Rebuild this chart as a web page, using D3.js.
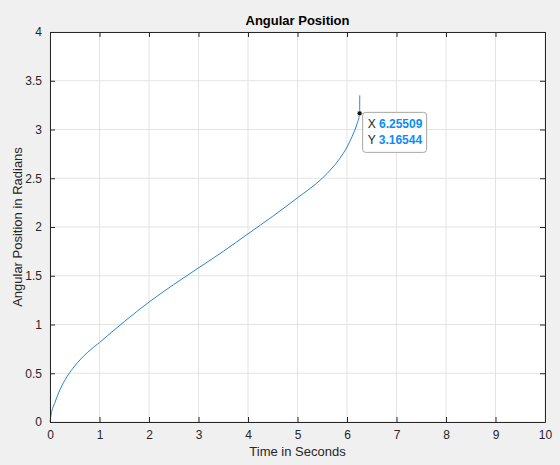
<!DOCTYPE html>
<html>
<head>
<meta charset="utf-8">
<script src="https://cdn.jsdelivr.net/npm/d3@7"></script>
<style>
  html, body { margin: 0; padding: 0; background: #f0f0f0; }
  svg { display: block; font-family: "Liberation Sans", Arial, sans-serif; }
</style>
</head>
<body>
<svg id="chart" width="560" height="465"></svg>
<script>
// Werte
const timeValues = [0, 0.02, 0.1, 0.2, 0.35, 0.5, 0.75, 1.0, 1.5, 2.0, 2.5, 3.0, 3.5, 4.0, 4.5, 5.0, 5.5, 5.7, 5.85, 6.0, 6.1, 6.2, 6.255, 6.258];
const angleValues = [0, 0.07, 0.2, 0.33, 0.47, 0.575, 0.71, 0.815, 1.03, 1.23, 1.41, 1.58, 1.75, 1.93, 2.11, 2.30, 2.50, 2.605, 2.70, 2.82, 2.925, 3.055, 3.16544, 3.35];
const xTicks = [0, 1, 2, 3, 4, 5, 6, 7, 8, 9, 10];
const yTicks = [0, 0.5, 1, 1.5, 2, 2.5, 3, 3.5, 4];
const dataTip = { x: 6.25509, y: 3.16544 };

const svg = d3.select("#chart");
const margin = { top: 32, right: 15, bottom: 43, left: 50 };
const width = 560 - margin.left - margin.right;
const height = 465 - margin.top - margin.bottom;

const g = svg.append("g")
  .attr("transform", `translate(${margin.left},${margin.top})`);

const x = d3.scaleLinear().domain([0, 10]).range([0, width]);
const y = d3.scaleLinear().domain([0, 4]).range([height, 0]);

// Achsenfläche
g.append("rect")
  .attr("width", width)
  .attr("height", height)
  .attr("fill", "#ffffff");

// Gitterlinien
g.selectAll("line.vgrid")
  .data(xTicks)
  .enter()
  .append("line")
    .attr("class", "vgrid")
    .attr("x1", d => x(d)).attr("x2", d => x(d))
    .attr("y1", 0).attr("y2", height)
    .attr("stroke", "#e3e3e3");

g.selectAll("line.hgrid")
  .data(yTicks)
  .enter()
  .append("line")
    .attr("class", "hgrid")
    .attr("y1", d => y(d)).attr("y2", d => y(d))
    .attr("x1", 0).attr("x2", width)
    .attr("stroke", "#e3e3e3");

// Kurve
const points = timeValues.map((t, i) => ({ t, a: angleValues[i] }));
g.append("path")
  .datum(points)
  .attr("fill", "none")
  .attr("stroke", "#2b84cb")
  .attr("stroke-width", 1)
  .attr("d", d3.line()
    .x(d => x(d.t))
    .y(d => y(d.a))
    .curve(d3.curveMonotoneX));

// Achsen (Ticks nach innen, Box rundum)
function styleAxis(sel) {
  sel.select(".domain").attr("stroke", "#262626");
  sel.selectAll(".tick line").attr("stroke", "#262626");
  sel.selectAll(".tick text")
    .attr("fill", "#262626")
    .attr("font-size", "12px")
    .attr("font-family", "Liberation Sans, Arial, sans-serif");
}

const fmt = d => String(d);

g.append("g")
  .attr("transform", `translate(0,${height})`)
  .call(d3.axisBottom(x).tickValues(xTicks).tickFormat(fmt).tickSizeInner(-5).tickSizeOuter(0).tickPadding(8))
  .call(styleAxis);

g.append("g")
  .call(d3.axisTop(x).tickValues(xTicks).tickFormat("").tickSizeInner(-5).tickSizeOuter(0))
  .call(styleAxis);

g.append("g")
  .call(d3.axisLeft(y).tickValues(yTicks).tickFormat(fmt).tickSizeInner(-5).tickSizeOuter(0).tickPadding(8))
  .call(styleAxis);

g.append("g")
  .attr("transform", `translate(${width},0)`)
  .call(d3.axisRight(y).tickValues(yTicks).tickFormat("").tickSizeInner(-5).tickSizeOuter(0))
  .call(styleAxis);

// Titel und Achsentitel
svg.append("text")
  .attr("x", margin.left + width / 2)
  .attr("y", 25)
  .attr("text-anchor", "middle")
  .attr("fill", "#000")
  .attr("font-size", "13px")
  .attr("font-weight", "bold")
  .text("Angular Position");

svg.append("text")
  .attr("x", margin.left + width / 2)
  .attr("y", 456)
  .attr("text-anchor", "middle")
  .attr("fill", "#262626")
  .attr("font-size", "13px")
  .text("Time in Seconds");

svg.append("text")
  .attr("transform", `translate(22,${margin.top + height / 2}) rotate(-90)`)
  .attr("text-anchor", "middle")
  .attr("fill", "#262626")
  .attr("font-size", "13px")
  .text("Angular Position in Radians");

// Datentipp
const tipX = x(dataTip.x);
const tipY = y(dataTip.y);

const tip = g.append("g")
  .attr("transform", `translate(${tipX + 3},${tipY - 1})`);

tip.append("rect")
  .attr("width", 64)
  .attr("height", 40)
  .attr("rx", 3)
  .attr("fill", "#ffffff")
  .attr("fill-opacity", 0.95)
  .attr("stroke", "#a6a6a6")
  .attr("stroke-width", 1);

const tipRows = [["X", dataTip.x.toFixed(5)], ["Y", dataTip.y.toFixed(5)]];
tipRows.forEach((row, i) => {
  const t = tip.append("text")
    .attr("x", 5)
    .attr("y", 16 + i * 16)
    .attr("font-size", "12px");
  t.append("tspan").attr("fill", "#262626").text(row[0] + " ");
  t.append("tspan").attr("fill", "#0a8cff").attr("font-weight", "bold").text(row[1]);
});

g.append("circle")
  .attr("cx", tipX)
  .attr("cy", tipY)
  .attr("r", 2.5)
  .attr("fill", "#111")
  .attr("stroke", "#f3f0b0")
  .attr("stroke-width", 0.8);
</script>
</body>
</html>
